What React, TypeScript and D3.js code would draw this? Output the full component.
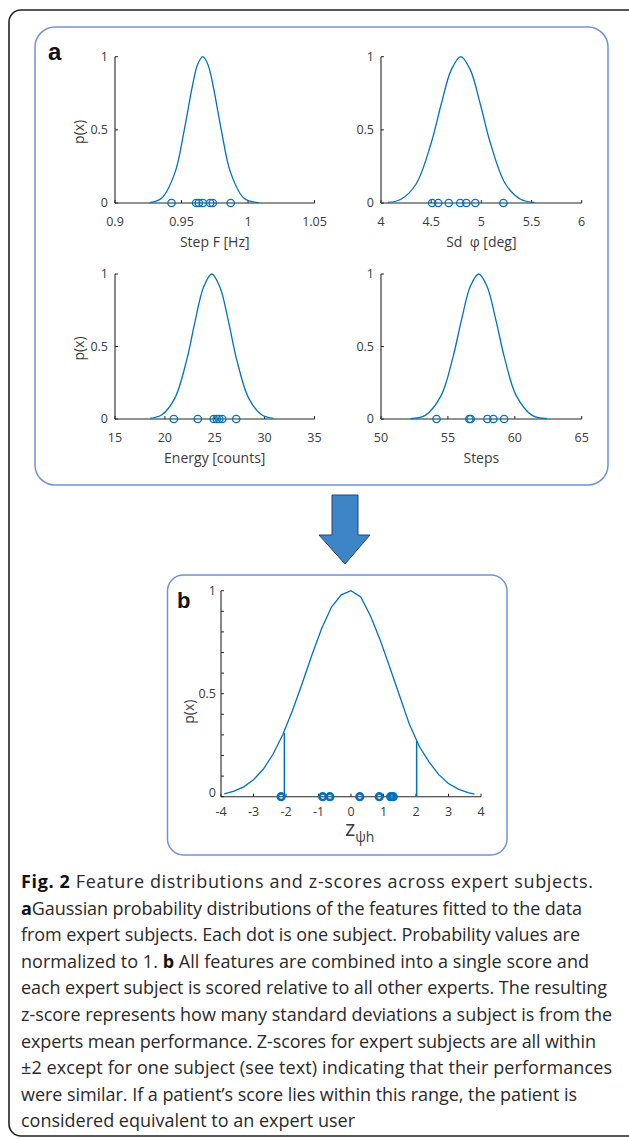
import * as d3 from "d3";

// panel a: fitted feature distributions (normalized to 1) and expert subjects
const stepFreqTicks = [0.9, 0.95, 1, 1.05];
const stepFreqCurveX = [0.926, 0.935, 0.945, 0.952, 0.958, 0.962, 0.966, 0.97, 0.974, 0.98, 0.987, 0.997, 1.008];
const stepFreqCurveP = [0.003, 0.032, 0.206, 0.495, 0.79, 0.944, 1, 0.944, 0.79, 0.495, 0.206, 0.032, 0.002];
const stepFreqSubjects = [0.9425, 0.961, 0.963, 0.966, 0.9715, 0.9735, 0.987];

const swayTicks = [4, 4.5, 5, 5.5, 6];
const swayCurveX = [4.07, 4.2, 4.35, 4.5, 4.6, 4.7, 4.795, 4.89, 4.99, 5.09, 5.24, 5.39, 5.53];
const swayCurveP = [0.004, 0.026, 0.13, 0.41, 0.675, 0.91, 1, 0.91, 0.675, 0.41, 0.13, 0.026, 0.004];
const swaySubjects = [4.51, 4.57, 4.675, 4.79, 4.85, 4.94, 5.22];

const energyTicks = [15, 20, 25, 30, 35];
const energyCurveX = [18.5, 19.7, 21.0, 22.2, 23.0, 23.9, 24.7, 25.5, 26.4, 27.2, 28.4, 29.7, 30.9];
const energyCurveP = [0.004, 0.029, 0.144, 0.41, 0.665, 0.913, 1, 0.913, 0.665, 0.41, 0.144, 0.029, 0.004];
const energySubjects = [20.9, 23.3, 24.9, 25.2, 25.45, 25.75, 27.15];

const stepsTicks = [50, 55, 60, 65];
const stepsCurveX = [52.2, 53.3, 54.5, 55.4, 56.0, 56.7, 57.3, 57.9, 58.6, 59.2, 60.1, 61.3, 62.4];
const stepsCurveP = [0.002, 0.025, 0.163, 0.434, 0.677, 0.92, 1, 0.92, 0.677, 0.434, 0.163, 0.025, 0.002];
const stepsSubjects = [54.15, 56.6, 56.7, 57.95, 58.4, 59.2];

// panel b: combined z-score
const zTicks = [-4, -3, -2, -1, 0, 1, 2, 3, 4];
const zCurveX = [-3.9, -3.6, -3.3, -3.0, -2.7, -2.4, -2.1, -1.8, -1.5, -1.2, -0.9, -0.6, -0.3, 0, 0.3, 0.6, 0.9, 1.2, 1.5, 1.8, 2.1, 2.4, 2.7, 3.0, 3.3, 3.6, 3.8];
const zCurveP = [0.014, 0.027, 0.048, 0.082, 0.133, 0.206, 0.301, 0.418, 0.551, 0.689, 0.818, 0.921, 0.98, 1, 0.97, 0.877, 0.76, 0.625, 0.488, 0.35, 0.245, 0.169, 0.107, 0.064, 0.037, 0.02, 0.013];
const zSubjects = [-2.15, -0.87, -0.65, 0.27, 0.87, 1.22, 1.3];
const zLimits = [-2.05, 2.02];
const zLimitP = [0.31, 0.27];

const captionLines = [
  [{ t: "Fig. 2", b: true }, { t: " Feature distributions and z-scores across expert subjects." }],
  [{ t: "a", b: true }, { t: "Gaussian probability distributions of the features fitted to the data" }],
  [{ t: "from expert subjects. Each dot is one subject. Probability values are" }],
  [{ t: "normalized to 1. " }, { t: "b", b: true }, { t: " All features are combined into a single score and" }],
  [{ t: "each expert subject is scored relative to all other experts. The resulting" }],
  [{ t: "z-score represents how many standard deviations a subject is from the" }],
  [{ t: "experts mean performance. Z-scores for expert subjects are all within" }],
  [{ t: "±2 except for one subject (see text) indicating that their performances" }],
  [{ t: "were similar. If a patient’s score lies within this range, the patient is" }],
  [{ t: "considered equivalent to an expert user" }],
];
const captionRight = [593, 582, 580, 589, 607, 612, 596, 612, 577, 355];

const BLUE = "#0072BD";
const AXIS = "#262626";
const TXT = "#3a3a3a";
const FONT = "'Open Sans', sans-serif";

type FeatureProps = {
  x0: number;
  x1: number;
  yBottom: number;
  yTop: number;
  ticks: number[];
  label: string;
  curveX: number[];
  curveP: number[];
  subjects: number[];
  showYLabel: boolean;
};

function Feature({ x0, x1, yBottom, yTop, ticks, label, curveX, curveP, subjects, showYLabel }: FeatureProps) {
  const x = d3.scaleLinear().domain([ticks[0], ticks[ticks.length - 1]]).range([x0, x1]);
  const y = d3.scaleLinear().domain([0, 1]).range([yBottom, yTop]);
  const line = d3
    .line<number>()
    .x((_, i) => x(curveX[i]))
    .y((d) => y(d))
    .curve(d3.curveCatmullRom.alpha(0.5));

  return (
    <g fontFamily={FONT}>
      <line x1={x0} x2={x1} y1={yBottom} y2={yBottom} stroke={AXIS} strokeWidth={1.1} />
      <line x1={x0} x2={x0} y1={yBottom} y2={yTop} stroke={AXIS} strokeWidth={1.1} />
      {ticks.map((t) => (
        <g key={t}>
          <line x1={x(t)} x2={x(t)} y1={yBottom} y2={yBottom - 3} stroke={AXIS} />
          <text x={x(t)} y={yBottom + 23} textAnchor="middle" fontSize={12.5} fill={TXT}>
            {String(t)}
          </text>
        </g>
      ))}
      {[0, 0.5, 1].map((t) => (
        <g key={t}>
          <line x1={x0} x2={x0 + 3} y1={y(t)} y2={y(t)} stroke={AXIS} />
          <text x={x0 - 7} y={y(t)} dy="0.35em" textAnchor="end" fontSize={12.5} fill={TXT}>
            {String(t)}
          </text>
        </g>
      ))}
      <text x={(x0 + x1) / 2} y={yBottom + 43.5} textAnchor="middle" fontSize={14} fill={TXT} style={{ whiteSpace: "pre" }}>
        {label}
      </text>
      {showYLabel && (
        <text
          transform={`translate(${x0 - 36},${(yBottom + yTop) / 2 + 2}) rotate(-90)`}
          textAnchor="middle"
          dy="0.35em"
          fontSize={14}
          fill={TXT}
        >
          p(x)
        </text>
      )}
      <path d={line(curveP) ?? ""} fill="none" stroke={BLUE} strokeWidth={1.3} />
      {subjects.map((s, i) => (
        <circle key={i} cx={x(s)} cy={y(0)} r={3.7} fill="none" stroke={BLUE} strokeWidth={1.3} />
      ))}
    </g>
  );
}

function ZScore() {
  const x0 = 221;
  const x1 = 481;
  const yBottom = 796.7;
  const yTop = 590.7;
  const x = d3.scaleLinear().domain([-4, 4]).range([x0, x1]);
  const y = d3.scaleLinear().domain([0, 1]).range([yBottom, yTop]);
  const line = d3
    .line<number>()
    .x((_, i) => x(zCurveX[i]))
    .y((d) => y(d));

  return (
    <g fontFamily={FONT}>
      <line x1={x0} x2={x1} y1={yBottom} y2={yBottom} stroke={AXIS} strokeWidth={1.1} />
      <line x1={x0} x2={x0} y1={yBottom} y2={yTop} stroke={AXIS} strokeWidth={1.1} />
      {zTicks.map((t) => (
        <g key={t}>
          <line x1={x(t)} x2={x(t)} y1={yBottom} y2={yBottom - 3} stroke={AXIS} />
          <text x={x(t)} y={yBottom + 19} textAnchor="middle" fontSize={12.5} fill={TXT}>
            {String(t)}
          </text>
        </g>
      ))}
      {y.ticks(10).map((t) => (
        <line key={t} x1={x0} x2={x0 + 3} y1={y(t)} y2={y(t)} stroke={AXIS} />
      ))}
      {[0, 0.5, 1].map((t) => (
        <text key={t} x={x0 - 5} y={y(t) - (t === 0 ? 4 : 0)} dy="0.35em" textAnchor="end" fontSize={12.5} fill={TXT}>
          {String(t)}
        </text>
      ))}
      <text
        transform={`translate(${x0 - 32},${(yBottom + yTop) / 2 + 18}) rotate(-90)`}
        textAnchor="middle"
        dy="0.35em"
        fontSize={14}
        fill={TXT}
      >
        p(x)
      </text>
      <text x={345} y={836} fontSize={22} fill={TXT}>
        z<tspan fontSize={14} dy={6}>ψh</tspan>
      </text>
      <path d={line(zCurveP) ?? ""} fill="none" stroke={BLUE} strokeWidth={1.3} />
      {zLimits.map((z, i) => (
        <line key={z} x1={x(z)} x2={x(z)} y1={y(0)} y2={y(zLimitP[i])} stroke={BLUE} strokeWidth={1.5} />
      ))}
      {zSubjects.map((s, i) => (
        <circle key={i} cx={x(s)} cy={y(0)} r={3.3} fill="none" stroke={BLUE} strokeWidth={2.6} />
      ))}
    </g>
  );
}

export default function App() {
  return (
    <svg
      width={629}
      height={1140}
      viewBox="0 0 629 1140"
      style={{ position: "absolute", left: 0, top: 0, background: "#fff", display: "block" }}
    >
      {/* outer figure frame, runs off the right edge */}
      <rect x={9} y={10} width={632} height={1126} rx={12} fill="none" stroke="#222" strokeWidth={1.6} />

      {/* panel a box */}
      <rect x={35} y={27} width={573} height={458} rx={20} fill="none" stroke="#6f93d6" strokeWidth={1.5} />
      <text x={48} y={59.5} fontFamily="'Liberation Sans', Arial, sans-serif" fontWeight="bold" fontSize={24} fill="#111">
        a
      </text>

      <Feature x0={115} x1={314.5} yBottom={203} yTop={56.7} ticks={stepFreqTicks} label="Step F [Hz]"
        curveX={stepFreqCurveX} curveP={stepFreqCurveP} subjects={stepFreqSubjects} showYLabel />
      <Feature x0={381} x1={581.7} yBottom={203} yTop={56.7} ticks={swayTicks} label="Sd  φ [deg]"
        curveX={swayCurveX} curveP={swayCurveP} subjects={swaySubjects} showYLabel={false} />
      <Feature x0={115} x1={314.5} yBottom={419} yTop={274} ticks={energyTicks} label="Energy [counts]"
        curveX={energyCurveX} curveP={energyCurveP} subjects={energySubjects} showYLabel />
      <Feature x0={381} x1={581.7} yBottom={419} yTop={274} ticks={stepsTicks} label="Steps"
        curveX={stepsCurveX} curveP={stepsCurveP} subjects={stepsSubjects} showYLabel={false} />

      {/* arrow */}
      <path
        d="M332,495 L358,495 L358,535 L370,535 L345,564 L319,535 L332,535 Z"
        fill="#3d85c6"
        stroke="#24446e"
        strokeWidth={1}
      />

      {/* panel b box */}
      <rect x={167.5} y={575} width={339.5} height={280} rx={16} fill="none" stroke="#6f93d6" strokeWidth={1.5} />
      <text x={177} y={608} fontFamily="'Liberation Sans', Arial, sans-serif" fontWeight="bold" fontSize={22} fill="#111">
        b
      </text>
      <ZScore />

      {/* caption */}
      <g fontFamily={FONT} fontSize={18} fill="#2a2a2a">
        {captionLines.map((segs, i) => (
          <text
            key={i}
            x={21}
            y={888 + i * 26.6}
            textLength={captionRight[i] - 21}
            lengthAdjust="spacing"
          >
            {segs.map((s, j) => (
              <tspan key={j} fontWeight={s.b ? "bold" : "normal"} fill={s.b ? "#111" : undefined}>
                {s.t}
              </tspan>
            ))}
          </text>
        ))}
      </g>
    </svg>
  );
}
